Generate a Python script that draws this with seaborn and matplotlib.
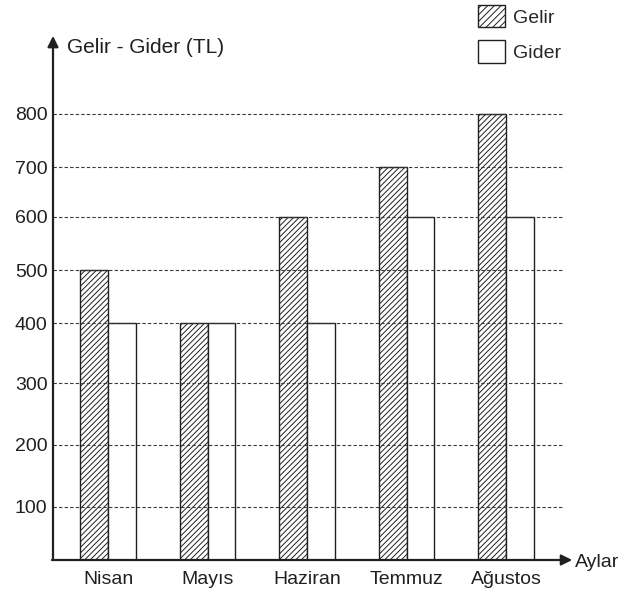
import seaborn as sns
import matplotlib.pyplot as plt
import matplotlib.patches as mpatches
import numpy as np
import pandas as pd

# data
aylar = ['Nisan', 'Mayıs', 'Haziran', 'Temmuz', 'Ağustos']
gelir = [500, 400, 600, 700, 800]
gider = [400, 400, 400, 600, 600]
yticks = [100, 200, 300, 400, 500, 600, 700, 800]

df = pd.DataFrame({
    'Ay': aylar * 2,
    'TL': gelir + gider,
    'Tür': ['Gelir'] * len(aylar) + ['Gider'] * len(aylar),
})

sns.set_style('white')
plt.rcParams['font.family'] = ['Liberation Sans', 'DejaVu Sans']
plt.rcParams['hatch.linewidth'] = 0.7

# the drawing's y axis is not evenly spaced, so use a piecewise scale
sc_v = np.array([0, 100, 200, 300, 400, 500, 600, 700, 800])
sc_p = np.array([0, 53.3, 115, 176.7, 236.7, 289.7, 343.3, 392.7, 446])

def fwd(v):
    v = np.asarray(v, dtype=float)
    return np.where(v > 800, 446 + (v - 800) * 0.53, np.interp(v, sc_v, sc_p))

def inv(p):
    p = np.asarray(p, dtype=float)
    return np.where(p > 446, 800 + (p - 446) / 0.53, np.interp(p, sc_p, sc_v))

ink = '#231f20'
fs = 14
fig = plt.figure(figsize=(6.37, 5.96), dpi=100)
ax = fig.add_axes([53/637, 36/596, 510/637, 522/596])

sns.barplot(data=df, x='Ay', y='TL', hue='Tür', palette=['white', 'white'],
            edgecolor=ink, linewidth=1.0, width=0.56, legend=False, ax=ax)
for p in ax.containers[0].patches:
    p.set_hatch('//////')

ax.set_yscale('function', functions=(fwd, inv))
ax.set_ylim(0, 943)
ax.set_xlim(-0.553, 4.572)
ax.set_yticks(yticks)
ax.set_axisbelow(False)
ax.yaxis.grid(True, linestyle=(0, (3, 2)), color='#3a3a3a', lw=0.8)
ax.xaxis.grid(False)
ax.tick_params(axis='both', length=0, labelsize=fs, colors=ink)
ax.tick_params(axis='x', pad=8)
ax.tick_params(axis='y', pad=4)
ax.set_xlabel('')
ax.set_ylabel('')
for s in ax.spines.values():
    s.set_visible(False)

# arrows for the axes
arr = dict(arrowstyle='-|>', mutation_scale=16, lw=1.6, color=ink, shrinkA=0, shrinkB=0)
ax.annotate('', xy=(0, 1.004), xytext=(0, 0), xycoords='axes fraction', arrowprops=arr, annotation_clip=False)
ax.annotate('', xy=(1.018, 0), xytext=(-0.002, 0), xycoords='axes fraction', arrowprops=arr, annotation_clip=False)

ax.text(0.027, 0.981, 'Gelir - Gider (TL)', transform=ax.transAxes, fontsize=15,
        color=ink, va='center', ha='left')
ax.text(1.023, -0.004, 'Aylar', transform=ax.transAxes, fontsize=fs,
        color=ink, va='center', ha='left')

h1 = mpatches.Patch(facecolor='white', edgecolor=ink, hatch='/////', lw=1.0, label='Gelir')
h2 = mpatches.Patch(facecolor='white', edgecolor=ink, lw=1.0, label='Gider')
fig.legend(handles=[h1, h2], loc='upper left', bbox_to_anchor=(478/637, 1 - 5/596),
           frameon=False, fontsize=fs, handlelength=1.39, handleheight=1.4,
           handletextpad=0.41, labelspacing=0.65, borderpad=0, borderaxespad=0)

fig.savefig('out.png', dpi=100)
